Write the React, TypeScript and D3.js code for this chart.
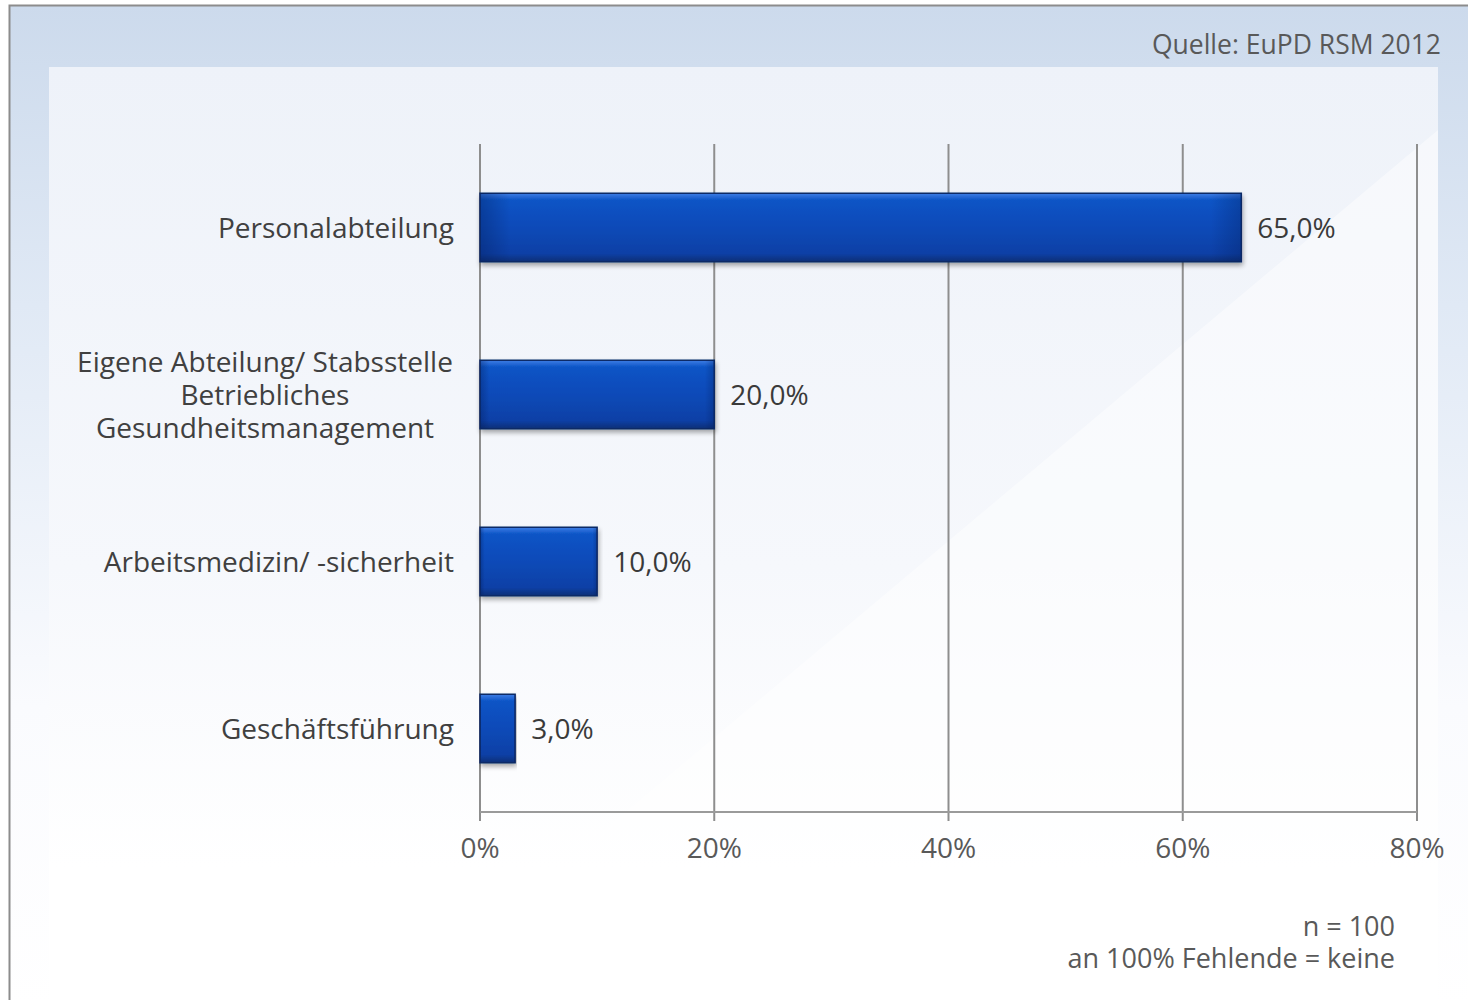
import React from "react";
import * as d3 from "d3";

const categories = [
  ["Personalabteilung"],
  ["Eigene Abteilung/ Stabsstelle", "Betriebliches", "Gesundheitsmanagement"],
  ["Arbeitsmedizin/ -sicherheit"],
  ["Geschäftsführung"],
];
const values = [65.0, 20.0, 10.0, 3.0];
const ticks = [0, 20, 40, 60, 80];
const source = "Quelle: EuPD RSM 2012";
const notes = ["n = 100", "an 100% Fehlende = keine"];

const W = 1468;
const H = 1000;
const FONT = "'Open Sans', 'Noto Sans', sans-serif";

export default function App() {
  const x = d3.scaleLinear().domain([0, 80]).range([480, 1417]);
  const y = d3
    .scaleBand<number>()
    .domain(d3.range(values.length))
    .range([144, 812])
    .paddingInner(0.59)
    .paddingOuter(0.295);
  const bw = y.bandwidth();
  const fmt = (v: number) => v.toFixed(1).replace(".", ",") + "%";

  return (
    <svg width={W} height={H} style={{ position: "absolute", left: 0, top: 0 }}>
      <defs>
        <linearGradient id="outerBg" x1="0" y1="0" x2="0" y2="1">
          <stop offset="0" stopColor="#ccdaec" />
          <stop offset="0.3" stopColor="#e0e9f5" />
          <stop offset="0.7" stopColor="#fafbfe" />
          <stop offset="1" stopColor="#ffffff" />
        </linearGradient>
        <linearGradient id="innerBg" x1="0" y1="0" x2="0" y2="1">
          <stop offset="0" stopColor="#eef2f9" />
          <stop offset="0.5" stopColor="#f6f8fc" />
          <stop offset="0.8" stopColor="#ffffff" />
          <stop offset="1" stopColor="#ffffff" />
        </linearGradient>
        <linearGradient id="barGrad" x1="0" y1="0" x2="0" y2="1">
          <stop offset="0" stopColor="#3f7fe6" />
          <stop offset="0.1" stopColor="#0d54c6" />
          <stop offset="0.5" stopColor="#0a4ab8" />
          <stop offset="0.88" stopColor="#0840a6" />
          <stop offset="1" stopColor="#0a2f77" />
        </linearGradient>
        <linearGradient id="barSide" x1="0" y1="0" x2="1" y2="0">
          <stop offset="0" stopColor="#001a55" stopOpacity="0.35" />
          <stop offset="0.04" stopColor="#001a55" stopOpacity="0" />
          <stop offset="0.96" stopColor="#001a55" stopOpacity="0" />
          <stop offset="1" stopColor="#001a55" stopOpacity="0.3" />
        </linearGradient>
        <filter id="shadow" x="-5%" y="-20%" width="110%" height="150%">
          <feGaussianBlur in="SourceAlpha" stdDeviation="2.5" />
          <feOffset dx="1" dy="3" result="b" />
          <feComponentTransfer>
            <feFuncA type="linear" slope="0.35" />
          </feComponentTransfer>
          <feMerge>
            <feMergeNode />
            <feMergeNode in="SourceGraphic" />
          </feMerge>
        </filter>
      </defs>

      <rect x={0} y={0} width={W} height={H} fill="#ffffff" />
      <rect x={9.5} y={5.5} width={W} height={H} fill="url(#outerBg)" stroke="#8c8c8c" strokeWidth={2} />
      <rect x={49} y={67} width={1389} height={H} fill="url(#innerBg)" />
      <path d="M560,867 L1438,130 L1438,867 Z" fill="#ffffff" opacity={0.45} />

      <text x={1441} y={54} textAnchor="end" fontFamily={FONT} fontSize={26.5} fill="#595959">
        {source}
      </text>

      {ticks.map((t) => (
        <line key={t} x1={x(t)} x2={x(t)} y1={144} y2={821} stroke="#8e8e8e" strokeWidth={2} />
      ))}
      <line x1={x(0)} x2={x(80)} y1={812} y2={812} stroke="#9a9a9a" strokeWidth={2} />

      {ticks.map((t) => (
        <text key={"l" + t} x={x(t)} y={858} textAnchor="middle" fontFamily={FONT} fontSize={28} fill="#595959">
          {t + "%"}
        </text>
      ))}

      {values.map((v, i) => {
        const y0 = y(i)!;
        return (
          <g key={i}>
            <g filter="url(#shadow)">
              <rect x={x(0)} y={y0} width={x(v) - x(0)} height={bw} fill="url(#barGrad)" stroke="#0b2a66" strokeWidth={1.5} />
            </g>
            <rect x={x(0)} y={y0} width={x(v) - x(0)} height={bw} fill="url(#barSide)" />
            <text x={x(v) + 16} y={y0 + bw / 2 + 10} fontFamily={FONT} fontSize={28} fill="#3a3a3a">
              {fmt(v)}
            </text>
          </g>
        );
      })}

      {categories.map((lines, i) => {
        const cy = y(i)! + bw / 2;
        const lh = 33;
        const start = cy - ((lines.length - 1) * lh) / 2 + 10;
        return (
          <text key={"c" + i} fontFamily={FONT} fontSize={28} fill="#404040" textAnchor={lines.length > 1 ? "middle" : "end"}>
            {lines.map((ln, j) => (
              <tspan key={j} x={lines.length > 1 ? 265 : 454} y={start + j * lh}>
                {ln}
              </tspan>
            ))}
          </text>
        );
      })}

      {notes.map((n, i) => (
        <text key={"n" + i} x={1395} y={936 + i * 32} textAnchor="end" fontFamily={FONT} fontSize={27} fill="#595959">
          {n}
        </text>
      ))}
    </svg>
  );
}
